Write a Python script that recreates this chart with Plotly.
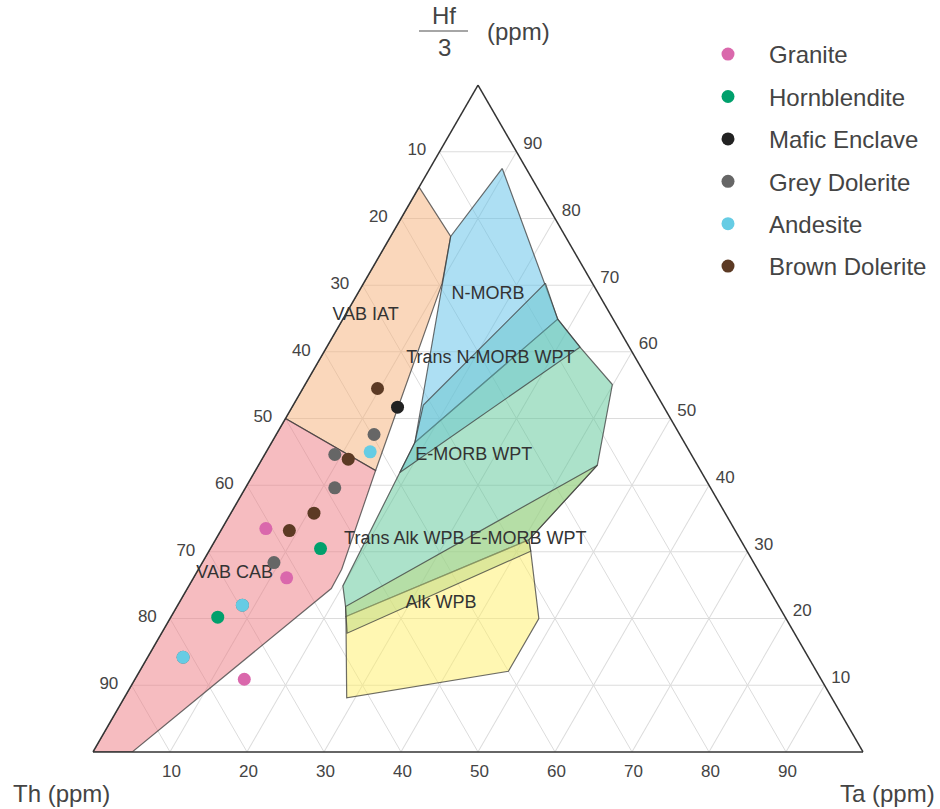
import plotly.graph_objects as go

# Discrimination fields (Wood, 1980); vertices as (Hf/3, Th, Ta) in percent
VAB_IAT = [(84.7, 15.3, 0.0), (77.3, 14.9, 7.8), (70.3, 19.5, 10.2), (42.2, 42.2, 15.6), (50.0, 50.0, 0.0)]
VAB_CAB = [(50.0, 50.0, 0.0), (42.2, 42.2, 15.6), (27.4, 54.0, 18.6), (24.5, 56.8, 18.7), (0.0, 94.9, 5.1), (0.0, 100.0, 0.0)]
N_MORB = [(87.5, 3.1, 9.4), (77.3, 14.9, 7.8), (46.4, 35.0, 18.6), (64.9, 7.2, 27.9)]
E_MORB_WPT = [(64.9, 7.2, 27.9), (60.7, 6.4, 32.9), (55.1, 5.0, 39.9), (43.0, 13.0, 44.0), (31.8, 27.5, 40.7),
              (20.3, 57.0, 22.7), (21.8, 56.3, 21.9), (24.9, 55.1, 20.0), (46.4, 35.0, 18.6)]
ALK_WPB = [(31.8, 27.5, 40.7), (30.1, 28.1, 41.8), (20.0, 32.1, 47.9), (12.1, 40.0, 47.9), (8.1, 63.0, 28.9), (20.3, 57.0, 22.7)]
TRANS_N_MORB_WPT = [(70.3, 6.1, 23.6), (52.0, 31.1, 16.9), (46.4, 35.0, 18.6), (41.9, 39.2, 18.9), (60.7, 6.4, 32.9), (64.9, 7.2, 27.9)]
TRANS_ALK_EMORB = [(43.0, 13.0, 44.0), (21.8, 56.3, 21.9), (17.8, 58.1, 24.1), (30.1, 28.1, 41.8), (31.8, 27.5, 40.7)]

# Field labels and their anchor points (Hf/3, Th, Ta)
FIELD_LABELS = ["N-MORB", "Trans N-MORB WPT", "VAB IAT", "E-MORB WPT",
                "Trans Alk WPB E-MORB WPT", "VAB CAB", "Alk WPB"]
FIELD_LABEL_POS = [(68.6, 14.4, 17.0), (59.0, 18.9, 22.1), (65.4, 31.9, 2.7), (44.5, 28.3, 27.2),
                   (31.9, 35.7, 32.4), (26.8, 68.2, 5.0), (22.2, 43.7, 34.1)]

# Samples (Hf/3, Th, Ta), normalised to 100
GRANITE = [(33.5, 60.8, 5.7), (26.1, 61.8, 12.1), (10.9, 74.9, 14.2)]
HORNBLENDITE = [(30.5, 55.2, 14.3), (20.2, 73.7, 6.1)]
MAFIC_ENCLAVE = [(51.7, 34.6, 13.7)]
GREY_DOLERITE = [(47.6, 39.7, 12.7), (44.6, 46.3, 9.1), (39.6, 48.8, 11.6), (28.4, 62.3, 9.3),
                 (22.0, 69.6, 8.4), (14.2, 81.2, 4.6)]
ANDESITE = [(45.0, 41.5, 13.5), (22.0, 69.6, 8.4), (14.2, 81.2, 4.6)]
BROWN_DOLERITE = [(54.5, 35.8, 9.7), (43.9, 44.9, 11.2), (35.8, 53.4, 10.8), (33.2, 57.9, 8.9)]

TICKS = [10, 20, 30, 40, 50, 60, 70, 80, 90]

FONT = "Liberation Sans, Arial, sans-serif"

fields = [
    (VAB_IAT, "rgba(245,175,119,0.5)"),
    (VAB_CAB, "rgba(237,121,129,0.5)"),
    (N_MORB, "rgba(91,191,231,0.5)"),
    (E_MORB_WPT, "rgba(89,197,149,0.5)"),
    (ALK_WPB, "rgba(255,239,101,0.5)"),
    (TRANS_N_MORB_WPT, "rgba(105,198,205,0.5)"),
    (TRANS_ALK_EMORB, "rgba(190,218,130,0.5)"),
]

samples = [
    ("Granite", GRANITE, "#DA68AC"),
    ("Hornblendite", HORNBLENDITE, "#00A06C"),
    ("Mafic Enclave", MAFIC_ENCLAVE, "#222222"),
    ("Grey Dolerite", GREY_DOLERITE, "#666666"),
    ("Andesite", ANDESITE, "#66CCE4"),
    ("Brown Dolerite", BROWN_DOLERITE, "#5C3A24"),
]


def closed(poly):
    return poly + poly[:1]


fig = go.Figure()

for poly, fill in fields:
    ring = closed(poly)
    fig.add_trace(go.Scatterternary(
        a=[p[0] for p in ring], b=[p[1] for p in ring], c=[p[2] for p in ring],
        mode="lines", fill="toself", fillcolor=fill,
        line=dict(color="rgba(60,60,60,0.75)", width=1.2),
        hoverinfo="skip", showlegend=False,
    ))

fig.add_trace(go.Scatterternary(
    a=[p[0] for p in FIELD_LABEL_POS], b=[p[1] for p in FIELD_LABEL_POS], c=[p[2] for p in FIELD_LABEL_POS],
    mode="text", text=FIELD_LABELS, cliponaxis=False,
    textfont=dict(family=FONT, size=18, color="#333333"),
    hoverinfo="skip", showlegend=False,
))

for name, pts, color in samples:
    fig.add_trace(go.Scatterternary(
        a=[p[0] for p in pts], b=[p[1] for p in pts], c=[p[2] for p in pts],
        mode="markers", name=name, legendgroup=name,
        marker=dict(size=13, color=color, line=dict(width=0)),
    ))


def axis(tickvals, ticklen):
    return dict(
        title=dict(text=""),
        tickvals=tickvals,
        ticktext=[str(100 - v) for v in tickvals],
        tickfont=dict(family=FONT, size=17, color="#444444"),
        ticks="outside", ticklen=ticklen, tickcolor="rgba(0,0,0,0)",
        showline=True, linecolor="#333333", linewidth=1.5,
        showgrid=True, gridcolor="#dcdcdc", gridwidth=1,
    )


W, H = 940, 809
left, right, top, bottom = 93, 863, 85, 752

fig.update_layout(
    width=W, height=H,
    margin=dict(l=0, r=0, t=0, b=0),
    paper_bgcolor="white",
    font=dict(family=FONT, color="#444444"),
    ternary=dict(
        sum=100,
        domain=dict(x=[left / W, right / W], y=[1 - bottom / H, 1 - top / H]),
        bgcolor="white",
        aaxis=axis(TICKS, 10),
        baxis=axis(TICKS, 3),
        caxis=axis(TICKS, 7),
    ),
    legend=dict(
        x=687 / W, y=1 - 32 / H, xanchor="left", yanchor="top",
        font=dict(family=FONT, size=24, color="#444444"),
        itemwidth=72, tracegroupgap=8.2, bgcolor="rgba(0,0,0,0)",
    ),
    showlegend=True,
)

# Axis titles
ann = [
    dict(text="Hf", x=444 / W, y=1 - 15 / H),
    dict(text="3", x=444 / W, y=1 - 47 / H),
    dict(text="(ppm)", x=518 / W, y=1 - 31 / H),
    dict(text="Th (ppm)", x=61 / W, y=1 - 793 / H),
    dict(text="Ta (ppm)", x=887 / W, y=1 - 793 / H),
]
for a in ann:
    fig.add_annotation(xref="paper", yref="paper", x=a["x"], y=a["y"], text=a["text"],
                       showarrow=False, xanchor="center", yanchor="middle",
                       font=dict(family=FONT, size=24, color="#444444"))

fig.add_shape(type="line", xref="paper", yref="paper",
              x0=419 / W, x1=468 / W, y0=1 - 31 / H, y1=1 - 31 / H,
              line=dict(color="#888888", width=1.5))

fig.write_html("out.html")
